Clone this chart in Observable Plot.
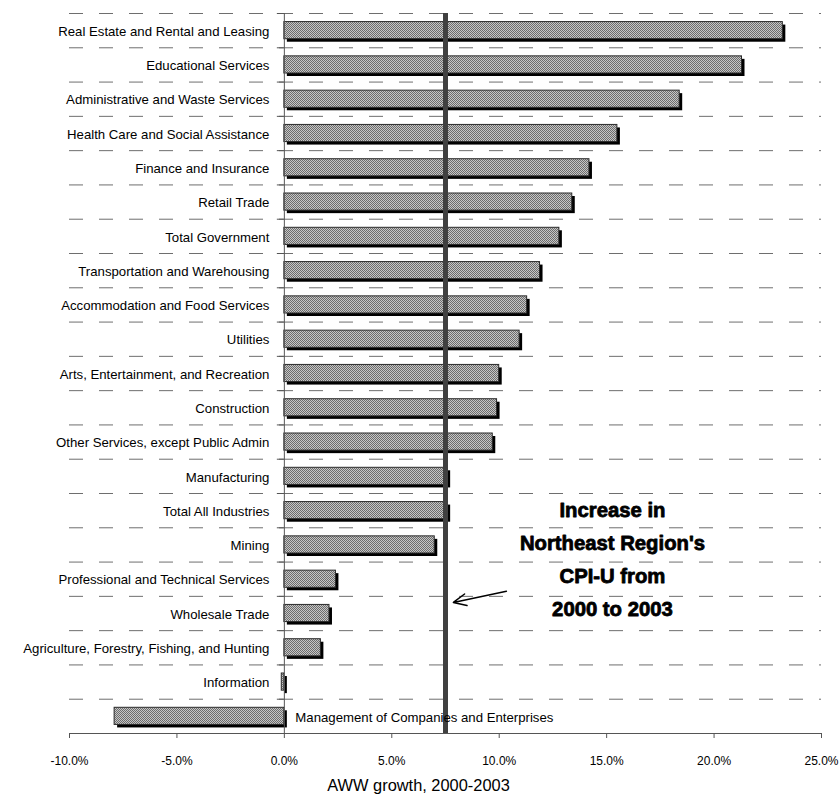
<!DOCTYPE html>
<html><head><meta charset="utf-8">
<script src="https://cdn.jsdelivr.net/npm/d3@7"></script>
<script src="https://cdn.jsdelivr.net/npm/@observablehq/plot@0.6"></script>
<style>
body{margin:0;background:#fff;}
#chart svg{display:block;}
</style></head><body>
<svg width="0" height="0" style="position:absolute"><defs>
<pattern id="dither" width="2" height="2" patternUnits="userSpaceOnUse">
<rect width="2" height="2" fill="#c6c6c6"/><rect width="1" height="1" fill="#6c6c6c"/><rect x="1" y="1" width="1" height="1" fill="#6c6c6c"/>
</pattern></defs></svg>
<div id="chart"></div>
<script>
const categories = [
  "Real Estate and Rental and Leasing",
  "Educational Services",
  "Administrative and Waste Services",
  "Health Care and Social Assistance",
  "Finance and Insurance",
  "Retail Trade",
  "Total Government",
  "Transportation and Warehousing",
  "Accommodation and Food Services",
  "Utilities",
  "Arts, Entertainment, and Recreation",
  "Construction",
  "Other Services, except Public Admin",
  "Manufacturing",
  "Total All Industries",
  "Mining",
  "Professional and Technical Services",
  "Wholesale Trade",
  "Agriculture, Forestry, Fishing, and Hunting",
  "Information",
  "Management of Companies and Enterprises"
];
const growth = [23.2, 21.3, 18.4, 15.5, 14.2, 13.4, 12.8, 11.9, 11.3, 10.95, 10.0, 9.9, 9.7, 7.6, 7.6, 7.0, 2.4, 2.1, 1.7, -0.12, -7.9];
const xTicks = [-10, -5, 0, 5, 10, 15, 20, 25];
const cpiIncrease = 7.5;
const annotationLines = ["Increase in", "Northeast Region's", "CPI-U from", "2000 to 2003"];
const axisTitle = "AWW growth, 2000-2003";

const data = categories.map((c, i) => ({category: c, value: growth[i]}));

const W = 840, H = 802, MT = 13, MB = 69, ML = 69, MR = 19;
const step = (H - MT - MB) / categories.length;
const font = "'Liberation Sans', Arial, sans-serif";

const chart = Plot.plot({
  width: W, height: H,
  marginTop: MT, marginBottom: MB, marginLeft: ML, marginRight: MR,
  style: {fontFamily: font, background: "#fff", color: "#000", overflow: "visible"},
  x: {domain: [-10, 25], axis: null},
  y: {domain: categories, axis: null, paddingInner: 0.5, paddingOuter: 0.25, round: false},
  marks: [
    // dashed category gridlines at band boundaries
    Plot.ruleY(categories, {y: d => d, dy: -step / 2, stroke: "#6e6e6e", strokeWidth: 1, strokeDasharray: "14,16"}),
    // small tick marks on the category axis
    Plot.ruleY(categories, {y: d => d, dy: -step / 2, x1: 0, x2: 0, insetLeft: -7, stroke: "#555"}),
    // bar shadows
    Plot.barX(data, {y: "category", x1: 0, x2: "value", dx: 3, dy: 3, fill: "#000"}),
    // bars
    Plot.barX(data, {y: "category", x1: 0, x2: "value", fill: "url(#dither)", stroke: "#2a2a2a", strokeWidth: 1}),
    // category axis line at zero
    Plot.ruleX([0], {stroke: "#555", strokeWidth: 1}),
    // bottom axis
    Plot.frame({anchor: "bottom", stroke: "#555"}),
    Plot.axisX({ticks: xTicks, tickFormat: d => d.toFixed(1) + "%", tickSize: 5, tickPadding: 18, label: null, fontSize: 12, stroke: "#555", fill: "#000"}),
    // CPI reference line
    Plot.ruleX([cpiIncrease], {stroke: "#404040", strokeWidth: 5}),
    // category labels
    Plot.text(data.filter(d => d.value > -1), {x: 0, y: "category", text: "category", dx: -15, dy: 1, textAnchor: "end", fontSize: 13.2, fill: "#000"}),
    Plot.text(data.filter(d => d.value <= -1), {x: 0, y: "category", text: "category", dx: 11, dy: 1, textAnchor: "start", fontSize: 13.2, fill: "#000"}),
    // axis title
    Plot.text([axisTitle], {frameAnchor: "bottom", dx: -27, dy: 57, fontSize: 16.4, fill: "#000"}),
    // annotation
    Plot.text([annotationLines.join("\n")], {x: 15.27, y: () => "Mining", dy: 11, fontSize: 20.3, fontWeight: "bold", lineHeight: 1.62, fill: "#000", stroke: "#000", strokeWidth: 0.8}),
    Plot.arrow([0], {x1: () => 10.335, y1: () => "Professional and Technical Services", x2: () => 2.78, y2: () => "Wholesale Trade", dy: 12, insetEnd: 111.7, stroke: "#000", strokeWidth: 1.5, headLength: 14, headAngle: 50})
  ]
});
document.getElementById("chart").appendChild(chart);
</script>
</body></html>
